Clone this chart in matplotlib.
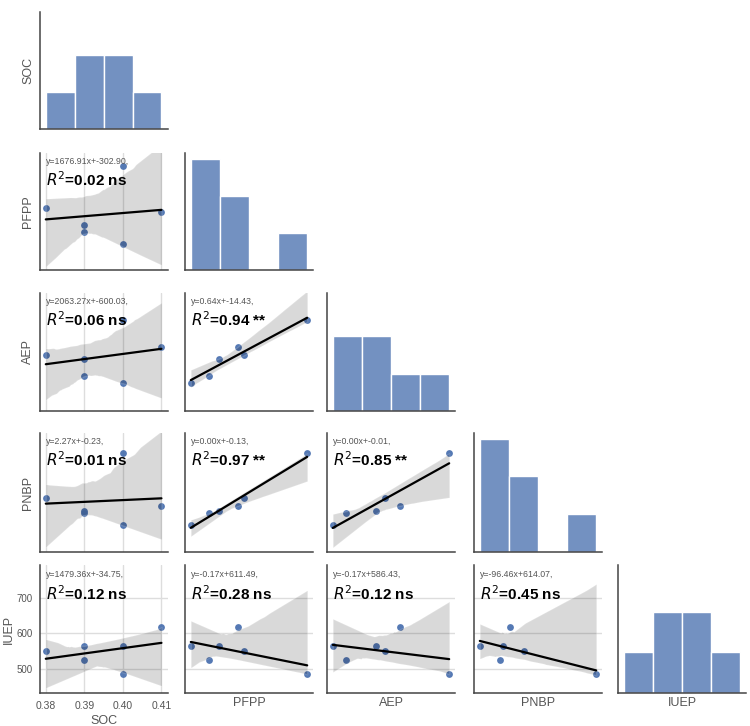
import numpy as np
import matplotlib
matplotlib.use('Agg')
import matplotlib.pyplot as plt
import seaborn as sns

# six samples
names = ['SOC', 'PFPP', 'AEP', 'PNBP', 'IUEP']
SOC = [0.38, 0.39, 0.39, 0.40, 0.40, 0.41]
PFPP = [391, 302, 266, 199, 619, 370]
AEP = [223, 202, 129, 98, 378, 259]
PNBP = [0.71, 0.54, 0.52, 0.36, 1.28, 0.60]
IUEP = [550, 563, 525, 563, 485, 618]
data = {'SOC': SOC, 'PFPP': PFPP, 'AEP': AEP, 'PNBP': PNBP, 'IUEP': IUEP}

# fit labels as printed on the chart, keyed (row, col)
eq_text = {
    (1, 0): 'y=1676.91x+-302.90,', (2, 0): 'y=2063.27x+-600.03,',
    (2, 1): 'y=0.64x+-14.43,', (3, 0): 'y=2.27x+-0.23,',
    (3, 1): 'y=0.00x+-0.13,', (3, 2): 'y=0.00x+-0.01,',
    (4, 0): 'y=1479.36x+-34.75,', (4, 1): 'y=-0.17x+611.49,',
    (4, 2): 'y=-0.17x+586.43,', (4, 3): 'y=-96.46x+614.07,',
}
r2_text = {
    (1, 0): '0.02 ns', (2, 0): '0.06 ns', (2, 1): '0.94 **',
    (3, 0): '0.01 ns', (3, 1): '0.97 **', (3, 2): '0.85 **',
    (4, 0): '0.12 ns', (4, 1): '0.28 ns', (4, 2): '0.12 ns', (4, 3): '0.45 ns',
}
soc_ticks = [0.38, 0.39, 0.40, 0.41]
iuep_ticks = [500, 600, 700]

sns.set_style('white')
plt.rcParams['font.family'] = ['Liberation Sans', 'DejaVu Sans']

W, H = 750, 726
fig = plt.figure(figsize=(W / 100, H / 100), dpi=100)

# layout in pixels
col_left = [40, 185, 327, 474, 618]
col_w = 128
row_top = [12, 153, 293, 433, 565]
row_h = [117, 117, 118, 119, 128]
row_ylim = {1: (62, 687), 2: (-29, 499), 3: (0.014, 1.54), 4: (432, 792)}

label_col = '#555555'
spine_col = '#444444'
grid_col = '#dddddd'

axes = {}
diag_axes = []
n = len(names)
for i in range(n):
    for j in range(i + 1):
        rect = [col_left[j] / W, 1 - (row_top[i] + row_h[i]) / H,
                col_w / W, row_h[i] / H]
        sx = axes[(j, j)] if (j, j) in axes else None
        if i == j:
            sy = diag_axes[0] if diag_axes else None
        else:
            sy = axes[(i, 0)] if (i, 0) in axes and j > 0 else None
        ax = fig.add_axes(rect, sharex=sx, sharey=sy)
        axes[(i, j)] = ax
        if i == j:
            diag_axes.append(ax)

for i in range(n):
    for j in range(i + 1):
        ax = axes[(i, j)]
        xv = np.array(data[names[j]], dtype=float)
        if i == j:
            sns.histplot(x=xv, bins=4, ax=ax, color='#4c72b0', alpha=0.78,
                         edgecolor='white', linewidth=1)
            ax.set_ylim(0, 3.15)
            ax.set_ylabel('')
        else:
            yv = np.array(data[names[i]], dtype=float)
            sns.regplot(x=xv, y=yv, ax=ax, color='#4c72b0', ci=95, seed=3,
                        scatter_kws=dict(s=24, linewidths=0, alpha=0.95),
                        line_kws=dict(color='black', lw=1.6))
            ax.text(0.05, 0.925, eq_text[(i, j)], transform=ax.transAxes,
                    fontsize=6.3, color=label_col, va='center')
            ax.text(0.05, 0.775, '$R^2$=' + r2_text[(i, j)], transform=ax.transAxes,
                    fontsize=11, fontweight='bold', color='black', va='center')

        for s in ['top', 'right']:
            ax.spines[s].set_visible(False)
        for s in ['left', 'bottom']:
            ax.spines[s].set_color(spine_col)
            ax.spines[s].set_linewidth(1.1)
        ax.tick_params(axis='x', length=0, labelsize=7.5, labelcolor=label_col, pad=6)
        ax.tick_params(axis='y', length=0, labelsize=7, labelcolor=label_col, pad=5)

        # x ticks only for SOC column, y ticks only for IUEP row
        if j == 0:
            ax.set_xticks(soc_ticks)
            if i != j:
                ax.grid(axis='x', color=grid_col, lw=1)
        else:
            ax.set_xticks([])
        if i == n - 1 and i != j:
            ax.set_yticks(iuep_ticks)
            ax.grid(axis='y', color=grid_col, lw=1)
        elif i != n - 1:
            ax.set_yticks([])
        if i == j and i == n - 1:
            ax.set_yticks([])
        ax.set_axisbelow(True)

        if i != n - 1:
            ax.tick_params(labelbottom=False)
        if j != 0 or i == j and i != 0:
            ax.tick_params(labelleft=False)
        if j == 0:
            ax.set_ylabel(names[i], fontsize=9, color=label_col)
            ax.yaxis.set_label_coords(-0.2 if i == n - 1 else -0.045, 0.5)
        if i == n - 1:
            ax.set_xlabel(names[j], fontsize=9, color=label_col, labelpad=3)

axes[(0, 0)].set_xlim(0.3785, 0.4117)
for i, lim in row_ylim.items():
    axes[(i, 0)].set_ylim(*lim)

fig.savefig('out.png', dpi=100)
